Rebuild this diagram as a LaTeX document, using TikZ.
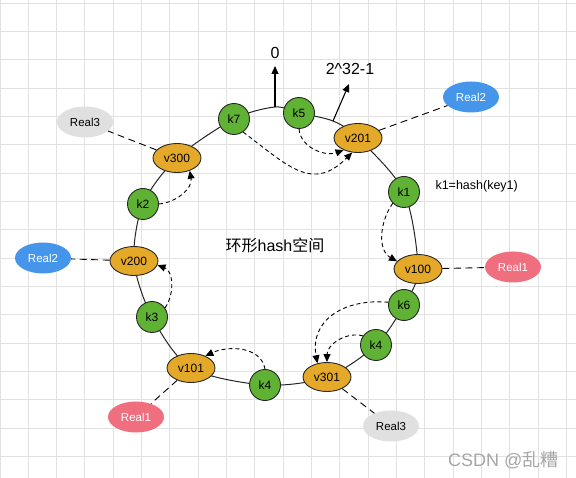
\documentclass[tikz,border=0pt]{standalone}
\usepackage{fontspec}
\setmainfont{Liberation Sans}
\newfontfamily\cjk{Noto Sans CJK SC}
\usetikzlibrary{shapes.geometric,arrows.meta,backgrounds}
\definecolor{kgreen}{HTML}{5FB233}
\definecolor{vorange}{HTML}{E5A92A}
\definecolor{realblue}{HTML}{4596EA}
\definecolor{realpink}{HTML}{EF6F7F}
\definecolor{realgray}{HTML}{E0E0E0}
\definecolor{gridgray}{HTML}{E2E2E2}
\begin{document}
\begin{tikzpicture}[x=1pt,y=1pt,
    knode/.style={circle, draw=black!85, line width=0.9pt, fill=kgreen, minimum size=31pt, inner sep=0pt, font=\fontsize{12}{12}\selectfont},
    vnode/.style={ellipse, draw=black!85, line width=0.9pt, fill=vorange, minimum width=48pt, minimum height=29pt, inner sep=0pt, font=\fontsize{12}{12}\selectfont},
    realnode/.style={ellipse, minimum width=56pt, minimum height=31pt, inner sep=0pt, font=\fontsize{11.5}{12}\selectfont},
    flow/.style={line width=0.9pt, dash pattern=on 4pt off 3pt, -{Triangle[length=8pt,width=7pt]}},
    link/.style={line width=0.9pt, dash pattern=on 7pt off 4.5pt},
    pointer/.style={line width=1.1pt, -{Triangle[length=8pt,width=7pt]}}]
                      \useasboundingbox (0,-478) rectangle (576,0);

                      \node[knode] (k7) at (234,-119) {k7};
                      \node[knode] (k5) at (299,-113) {k5};
                      \node[vnode] (v201) at (358,-138) {v201};
                      \node[knode] (k1) at (404,-192) {k1};
                      \node[vnode] (v100) at (418,-269) {v100};
                      \node[knode] (k6) at (404,-305) {k6};
                      \node[knode] (k4r) at (376,-345) {k4};
                      \node[vnode] (v301) at (327,-377) {v301};
                      \node[knode] (k4b) at (265,-385) {k4};
                      \node[vnode] (v101) at (191,-368) {v101};
                      \node[knode] (k3) at (152,-317) {k3};
                      \node[vnode] (v200) at (134,-261) {v200};
                      \node[knode] (k2) at (143,-204) {k2};
                      \node[vnode] (v300) at (177,-158) {v300};

                      \coordinate (zero) at (275,-107);
                      \coordinate (maxpt) at (333,-121);
                      \coordinate (zerotip) at (275,-66);
                      \coordinate (maxtip) at (349,-84);
                      \node[font=\fontsize{16}{16}\selectfont] (zerolabel) at (275,-53) {0};
                      \node[font=\fontsize{16}{16}\selectfont] (maxlabel) at (350,-69) {2\textasciicircum32-1};
                      \draw[pointer] (zero) -- (zerotip);
                      \draw[pointer] (maxpt) -- (maxtip);

                      \node[realnode, fill=realblue, text=white] (real2a) at (471,-97) {Real2};
                      \node[realnode, fill=realgray] (real3a) at (85,-122) {Real3};
                      \node[realnode, fill=realblue, text=white] (real2b) at (43,-258) {Real2};
                      \node[realnode, fill=realpink, text=white] (real1a) at (513,-267) {Real1};
                      \node[realnode, fill=realpink, text=white] (real1b) at (136,-417) {Real1};
                      \node[realnode, fill=realgray] (real3b) at (391,-426) {Real3};
                      \draw[link] (v201) -- (real2a);
                      \draw[link] (v300) -- (real3a);
                      \draw[link] (v200) -- (real2b);
                      \draw[link] (v100) -- (real1a);
                      \draw[link] (v101) -- (real1b);
                      \draw[link] (v301) -- (real3b);

                      \draw[flow] (k7.-55) to[out=-37,in=-135,looseness=1.3] (v201.-112);
                      \draw[flow] (k5.south) to[out=-85,in=-160] (v201.-140);
                      \draw[flow] (k2.east) to[out=5,in=-80] (v300.-45);
                      \draw[flow] (k3.35) to[out=55,in=-20] (v200.-10);
                      \draw[flow] (k1.-135) to[out=-125,in=150] (v100.160);
                      \draw[flow] (k6.170) to[out=175,in=100,looseness=1.2] (v301.125);
                      \draw[flow] (k4r.145) to[out=165,in=90] (v301.north);
                      \draw[flow] (k4b.north) to[out=100,in=25] (v101.40);

                      \node[anchor=west, font=\fontsize{12.5}{13}\selectfont] (hashnote) at (432,-186) {k1=hash(key1)};
                      \node[font=\fontsize{16}{16}\selectfont] (space) at (275,-245) {{\cjk 环形}hash{\cjk 空间}};
                      \node[anchor=east, text=black!35, font=\fontsize{18}{18}\selectfont] (mark) at (562,-460) {CSDN @{\cjk 乱糟}};

                      \begin{scope}[on background layer]
                      \fill[white] (0,-478) rectangle (576,0);
                      \foreach \i in {0,...,20}
                          \draw[gridgray, line width=1pt] (\i*28.33,0) -- (\i*28.33,-478);
                      \foreach \j in {0,...,16}
                          \draw[gridgray, line width=1pt] (0,-3.3-\j*28.33) -- (576,-3.3-\j*28.33);
                      \draw[line width=1pt, black!85] plot[smooth cycle] coordinates {(k7.center) (zero) (k5.center) (maxpt) (v201.center) (k1.center) (v100.center) (k6.center) (k4r.center) (v301.center) (k4b.center) (v101.center) (k3.center) (v200.center) (k2.center) (v300.center)};
                      \end{scope}
                  \end{tikzpicture}
\end{document}
